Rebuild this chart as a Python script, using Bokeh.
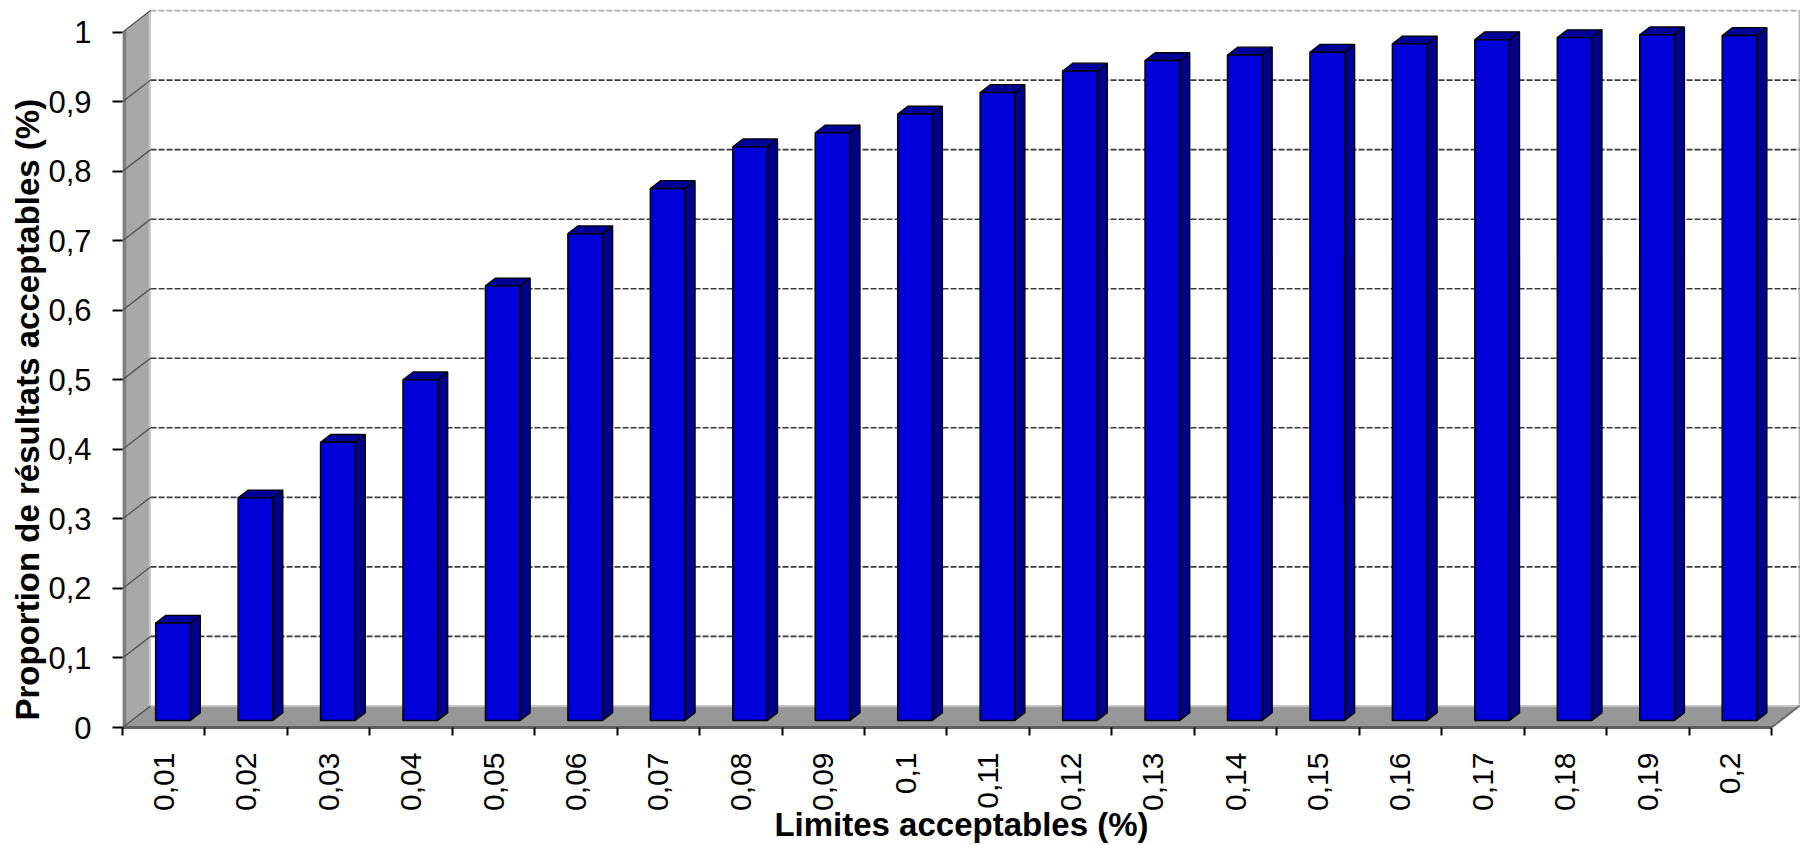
import math

from bokeh.embed import file_html
from bokeh.models import FixedTicker, Range1d, Title
from bokeh.plotting import figure
from bokeh.resources import INLINE

# Acceptable limits (%) on the category axis
limits = ["0,01", "0,02", "0,03", "0,04", "0,05", "0,06", "0,07", "0,08", "0,09", "0,1",
          "0,11", "0,12", "0,13", "0,14", "0,15", "0,16", "0,17", "0,18", "0,19", "0,2"]

# Proportion of acceptable results for each limit
proportions = [0.14, 0.32, 0.40, 0.49, 0.625, 0.70, 0.765, 0.825, 0.845, 0.872,
               0.903, 0.934, 0.949, 0.957, 0.961, 0.973, 0.979, 0.982, 0.986, 0.985]

# Value axis ticks and their French-formatted labels
y_ticks = [0.0, 0.1, 0.2, 0.3, 0.4, 0.5, 0.6, 0.7, 0.8, 0.9, 1.0]
y_tick_labels = ["0", "0,1", "0,2", "0,3", "0,4", "0,5", "0,6", "0,7", "0,8", "0,9", "1"]

x_title = "Limites acceptables (%)"
y_title = "Proportion de résultats acceptables (%)"

FONT = "Liberation Sans"

# Pseudo-3D projection: full chart depth shifts right and up by this much
DEPTH_X = 0.34
DEPTH_Y = 0.031
# Bars occupy this slice of the depth, and this fraction of a category's width
BAR_FRONT, BAR_BACK = 0.33, 0.69
HALF_W = 0.21

WALL = "#A8A8A8"
WALL_EDGE = "#7E7E7E"
FLOOR = "#979797"
BAR_FACE = "#0000D8"
BAR_SIDE = "#00008A"
BAR_TOP = "#000098"

n = len(limits)
y_top = max(y_ticks)

p = figure(
    width=1800, height=845,
    x_range=Range1d(0, n + DEPTH_X + 0.012),
    y_range=Range1d(0, y_top + DEPTH_Y + 0.003),
    output_backend="svg", toolbar_location=None,
    min_border_left=122, min_border_right=0, min_border_top=8, min_border_bottom=118,
    background_fill_color="white", border_fill_color="white",
)
p.outline_line_color = None
p.grid.visible = False

# Back wall
p.quad(left=[DEPTH_X], right=[n + DEPTH_X], bottom=[DEPTH_Y], top=[y_top + DEPTH_Y],
       fill_color="white", line_color=None)
p.segment(x0=[n + DEPTH_X], y0=[DEPTH_Y], x1=[n + DEPTH_X], y1=[y_top + DEPTH_Y],
          line_color="#BDBDBD", line_width=2)

# Left side wall with a darker front edge and a light inner edge
p.patch(x=[0, 0, DEPTH_X, DEPTH_X], y=[0, y_top, y_top + DEPTH_Y, DEPTH_Y],
        fill_color=WALL, line_color=None)
p.patch(x=[0, 0, 0.045, 0.045],
        y=[0, y_top, y_top + DEPTH_Y * 0.045 / DEPTH_X, DEPTH_Y * 0.045 / DEPTH_X],
        fill_color=WALL_EDGE, line_color=None)
p.segment(x0=[DEPTH_X - 0.01], y0=[DEPTH_Y], x1=[DEPTH_X - 0.01], y1=[y_top + DEPTH_Y],
          line_color="#C8C8C8", line_width=2)

# Floor
p.patch(x=[0, n, n + DEPTH_X, DEPTH_X], y=[0, 0, DEPTH_Y, DEPTH_Y],
        fill_color=FLOOR, line_color=None)
p.segment(x0=[DEPTH_X], y0=[DEPTH_Y], x1=[n + DEPTH_X], y1=[DEPTH_Y],
          line_color="#C4C4C4", line_width=2)
p.segment(x0=[n], y0=[0], x1=[n + DEPTH_X], y1=[DEPTH_Y],
          line_color="#6A6A6A", line_width=2)

# Gridlines across the back wall and slanting over the side wall
grid_vals = [v for v in y_ticks if v > 0]
inner = [v for v in grid_vals if v < y_top]
p.segment(x0=[DEPTH_X] * len(inner), y0=[v + DEPTH_Y for v in inner],
          x1=[n + DEPTH_X] * len(inner), y1=[v + DEPTH_Y for v in inner],
          line_color="#3A3A3A", line_width=1.6, line_dash="6 2")
p.segment(x0=[DEPTH_X], y0=[y_top + DEPTH_Y], x1=[n + DEPTH_X], y1=[y_top + DEPTH_Y],
          line_color="#A8A8A8", line_width=1.6, line_dash="6 2")
p.segment(x0=[0] * len(y_ticks), y0=y_ticks,
          x1=[DEPTH_X] * len(y_ticks), y1=[v + DEPTH_Y for v in y_ticks],
          line_color="#4A4A4A", line_width=1.2)

# Bars: front face, right side and top, projected into the depth slice
fx, bx = BAR_FRONT * DEPTH_X, BAR_BACK * DEPTH_X
fy, by = BAR_FRONT * DEPTH_Y, BAR_BACK * DEPTH_Y
lefts = [i + 0.5 - HALF_W + fx for i in range(n)]
rights = [i + 0.5 + HALF_W + fx for i in range(n)]
tops = [v + fy for v in proportions]

side_xs = [[r, r + bx - fx, r + bx - fx, r] for r in rights]
side_ys = [[fy, by, v + by, v + fy] for v in proportions]
top_xs = [[l, r, r + bx - fx, l + bx - fx] for l, r in zip(lefts, rights)]
top_ys = [[v + fy, v + fy, v + by, v + by] for v in proportions]

p.patches(xs=side_xs, ys=side_ys, fill_color=BAR_SIDE, line_color="black", line_width=1.3)
p.patches(xs=top_xs, ys=top_ys, fill_color=BAR_TOP, line_color="black", line_width=1.3)
p.quad(left=lefts, right=rights, bottom=[fy] * n, top=tops,
       fill_color=BAR_FACE, line_color="black", line_width=1.5)

# Category axis: labels centred on each bar, ticks on category boundaries
xa = p.xaxis[0]
xa.ticker = FixedTicker(ticks=[i + 0.5 for i in range(n)], minor_ticks=list(range(n + 1)))
xa.major_label_overrides = {i + 0.5: lab for i, lab in enumerate(limits)}
xa.major_label_orientation = math.pi / 2
xa.major_tick_out = 0
xa.major_tick_in = 0
xa.minor_tick_out = 8
xa.minor_tick_in = 0
xa.minor_tick_line_color = "black"
xa.minor_tick_line_width = 2
xa.bounds = (0, n)
xa.axis_line_color = "#5E5E5E"
xa.axis_line_width = 3
xa.major_label_standoff = 17
xa.major_label_text_font = FONT
xa.major_label_text_font_size = "30px"
xa.major_label_text_color = "black"
xa.axis_label = x_title
xa.axis_label_text_font = FONT
xa.axis_label_text_font_size = "33px"
xa.axis_label_text_font_style = "bold"
xa.axis_label_text_color = "black"
xa.axis_label_standoff = -8

# Value axis
ya = p.yaxis[0]
ya.ticker = FixedTicker(ticks=y_ticks, minor_ticks=[])
ya.major_label_overrides = {v: lab for v, lab in zip(y_ticks, y_tick_labels)}
ya.bounds = (0, y_top)
ya.axis_line_color = None
ya.major_tick_out = 10
ya.major_tick_in = 0
ya.major_tick_line_color = "black"
ya.major_tick_line_width = 2
ya.minor_tick_out = 0
ya.minor_tick_in = 0
ya.major_label_standoff = 21
ya.major_label_text_font = FONT
ya.major_label_text_font_size = "31px"
ya.major_label_text_color = "black"

# Value-axis title, beside the tick labels, starting just above the floor
p.add_layout(Title(text=y_title, align="left", offset=7, standoff=0,
                   text_font=FONT, text_font_size="33px", text_font_style="bold",
                   text_color="black"), "left")

open("out.html", "w").write(file_html(p, INLINE))
